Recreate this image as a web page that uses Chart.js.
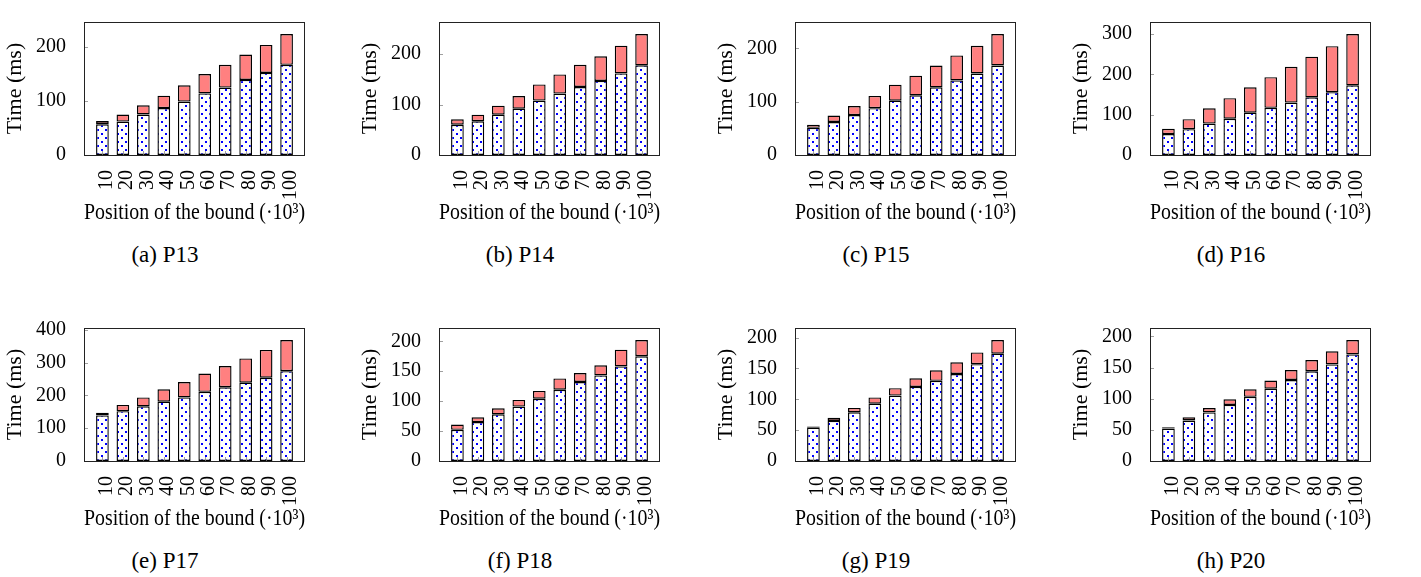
<!DOCTYPE html>
<html>
<head>
<meta charset="utf-8">
<script src="https://cdn.jsdelivr.net/npm/chart.js@4.4.0/dist/chart.umd.min.js"></script>
<style>
  body { margin: 0; background: #fff; width: 1421px; height: 577px; position: relative; overflow: hidden; }
  .panel { position: absolute; }
  .caption { position: absolute; font: 23px "Liberation Serif", serif; color: #000; transform: translate(-50%, -50%); white-space: nowrap; }
</style>
</head>
<body>
<script>
/* ===== data ===== */
const BOUNDS = [10, 20, 30, 40, 50, 60, 70, 80, 90, 100];

const P13_BASE  = [57, 62, 75, 87, 99, 114, 125, 139, 152, 167];
const P13_EXTRA = [6, 13, 17, 23, 30, 36, 42, 47, 52, 57];
const P14_BASE  = [60, 67, 80, 92, 108, 122, 135, 147, 162, 178];
const P14_EXTRA = [11, 13, 18, 25, 32, 38, 44, 49, 55, 62];
const P15_BASE  = [51, 62, 75, 88, 102, 112, 127, 140, 153, 168];
const P15_EXTRA = [6, 12, 17, 23, 30, 37, 41, 47, 52, 59];
const P16_BASE  = [52, 64, 78, 90, 105, 117, 130, 143, 156, 173];
const P16_EXTRA = [13, 25, 38, 51, 63, 76, 89, 101, 114, 127];
const P17_BASE  = [139, 152, 167, 181, 194, 211, 225, 239, 254, 274];
const P17_EXTRA = [8, 19, 27, 38, 47, 56, 65, 74, 85, 95];
const P18_BASE  = [52, 65, 78, 91, 104, 119, 132, 143, 158, 175];
const P18_EXTRA = [9, 8, 10, 11, 13, 19, 15, 17, 28, 27];
const P19_BASE  = [54, 65, 79, 93, 106, 120, 130, 141, 157, 174];
const P19_EXTRA = [2, 5, 7, 10, 12, 14, 17, 19, 19, 22];
const P20_BASE  = [52, 65, 78, 90, 103, 116, 130, 144, 155, 171];
const P20_EXTRA = [2, 5, 7, 9, 12, 13, 16, 18, 21, 23];

const PANEL_NAMES = ["(a) P13", "(b) P14", "(c) P15", "(d) P16", "(e) P17", "(f) P18", "(g) P19", "(h) P20"];
const PANEL_BASE  = [P13_BASE, P14_BASE, P15_BASE, P16_BASE, P17_BASE, P18_BASE, P19_BASE, P20_BASE];
const PANEL_EXTRA = [P13_EXTRA, P14_EXTRA, P15_EXTRA, P16_EXTRA, P17_EXTRA, P18_EXTRA, P19_EXTRA, P20_EXTRA];
const Y_STEPS     = [100, 100, 100, 100, 100, 50, 50, 50];

const X_TITLE = "Position of the bound (·10³)";
const Y_TITLE = "Time (ms)";

/* ===== helpers ===== */
const FONT = "'Liberation Serif', serif";

function dotPattern() {
  const c = document.createElement("canvas");
  c.width = 8; c.height = 8;
  const g = c.getContext("2d");
  g.fillStyle = "#fff";
  g.fillRect(0, 0, 8, 8);
  g.fillStyle = "#0000ff";
  g.fillRect(1, 1, 2, 2);
  g.fillRect(5, 5, 2, 2);
  return g.createPattern(c, "repeat");
}

const boxPlugin = {
  id: "box",
  afterDatasetsDraw(chart) {
    const { ctx, chartArea: a, scales } = chart;
    ctx.save();
    ctx.strokeStyle = "#888";
    ctx.lineWidth = 0.8;
    ctx.beginPath();
    scales.y.ticks.forEach(t => {
      const y = Math.round(scales.y.getPixelForValue(t.value)) + 0.5;
      ctx.moveTo(a.left, y); ctx.lineTo(a.left + 4, y);
    });
    scales.x.ticks.forEach(t => {
      const x = Math.round(scales.x.getPixelForValue(t.value)) + 0.5;
      ctx.moveTo(x, a.bottom); ctx.lineTo(x, a.bottom - 4);
    });
    ctx.stroke();
    ctx.strokeStyle = "#222";
    ctx.lineWidth = 1;
    ctx.strokeRect(a.left + 0.5, a.top + 0.5, a.right - a.left - 1, a.bottom - a.top);
    ctx.restore();
  },
};

function makePanel(i) {
  const col = i % 4, row = Math.floor(i / 4);
  const left = Math.round(col * 355.3), top = row * 306;

  const div = document.createElement("div");
  div.className = "panel";
  div.style.left = left + "px";
  div.style.top = top + "px";
  const canvas = document.createElement("canvas");
  canvas.width = 355; canvas.height = 230;
  div.appendChild(canvas);
  document.body.appendChild(div);

  const cap = document.createElement("div");
  cap.className = "caption";
  cap.textContent = PANEL_NAMES[i];
  cap.style.left = (left + 165) + "px";
  cap.style.top = (top + 255) + "px";
  document.body.appendChild(cap);

  const base = PANEL_BASE[i], extra = PANEL_EXTRA[i];
  const totals = base.map((v, k) => v + extra[k]);
  const yMax = Math.max(...totals) * 1.1;
  const step = Y_STEPS[i];

  new Chart(canvas, {
    type: "bar",
    data: {
      datasets: [
        {
          data: BOUNDS.map((x, k) => ({ x, y: base[k] })),
          backgroundColor: dotPattern(),
          borderColor: "#000",
          borderWidth: 1.4,
          borderSkipped: false,
        },
        {
          data: BOUNDS.map((x, k) => ({ x, y: extra[k] })),
          backgroundColor: "#ff8080",
          borderColor: "#000",
          borderWidth: 1.4,
          borderSkipped: false,
        },
      ],
    },
    options: {
      responsive: false,
      animation: false,
      events: [],
      layout: { padding: { left: 0, top: 2, right: 50, bottom: 0 } },
      datasets: { bar: { categoryPercentage: 1, barPercentage: 0.62 } },
      plugins: { legend: { display: false }, tooltip: { enabled: false } },
      scales: {
        x: {
          type: "linear",
          stacked: true,
          offset: false,
          min: 1,
          max: 109,
          grid: { display: false },
          border: { display: false },
          afterBuildTicks: axis => { axis.ticks = BOUNDS.map(v => ({ value: v })); },
          afterFit: axis => { axis.height = 75; },
          ticks: {
            autoSkip: false,
            minRotation: 90,
            maxRotation: 90,
            padding: 7,
            labelOffset: 4,
            color: "#000",
            font: { family: FONT, size: 20 },
          },
          title: {
            display: true,
            text: X_TITLE,
            color: "#000",
            font: { family: FONT, size: 23 },
            padding: { top: 0, bottom: 3 },
          },
        },
        y: {
          stacked: true,
          min: 0,
          max: yMax,
          grid: { display: false },
          border: { display: false },
          afterBuildTicks: axis => {
            const ticks = [];
            for (let v = 0; v <= yMax; v += step) ticks.push({ value: v });
            axis.ticks = ticks;
          },
          afterFit: axis => { axis.width = 84; },
          ticks: {
            padding: 10,
            color: "#000",
            font: { family: FONT, size: 20 },
          },
          title: {
            display: true,
            text: Y_TITLE,
            color: "#000",
            font: { family: FONT, size: 22 },
            padding: { top: 2, bottom: 0 },
          },
        },
      },
    },
    plugins: [boxPlugin],
  });
}

PANEL_NAMES.forEach((_, i) => makePanel(i));
</script>
</body>
</html>
